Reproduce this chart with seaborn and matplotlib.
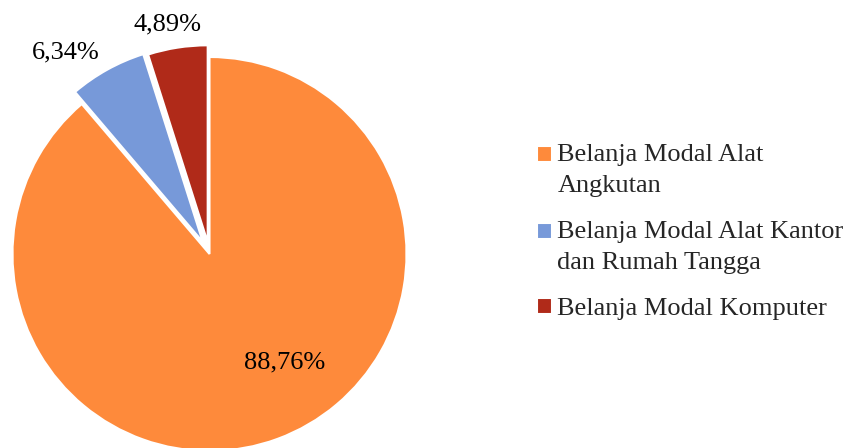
import matplotlib
matplotlib.use("Agg")
import matplotlib.pyplot as plt
from matplotlib.patches import Rectangle
from matplotlib.legend_handler import HandlerPatch
import seaborn as sns

categories = ["Belanja Modal Alat\nAngkutan",
              "Belanja Modal Alat Kantor\ndan Rumah Tangga",
              "Belanja Modal Komputer"]
values = [88.76, 6.34, 4.89]
labels = ["88,76%", "6,34%", "4,89%"]

colors = sns.color_palette(["#FE8A3B", "#7799D9", "#B02A19"])

sns.set_theme(style="white")
plt.rcParams["font.family"] = ["Liberation Serif", "DejaVu Serif"]


class FirstLineHandler(HandlerPatch):
    """Square legend key aligned with the first line of a multi-line label."""

    def __init__(self, shift_pt=0.0, **kw):
        super().__init__(**kw)
        self.shift_pt = shift_pt

    def _create_patch(self, legend, orig_handle, xdescent, ydescent,
                      width, height, fontsize):
        return Rectangle(xy=(-xdescent, -ydescent + self.shift_pt),
                         width=width, height=height)


W, H = 850, 448
fig = plt.figure(figsize=(W / 100, H / 100), dpi=100)
cx, cy, R = 209.5, 254.0, 197.0
ax = fig.add_axes([(cx - R) / W, (H - cy - R) / H, 2 * R / W, 2 * R / H])

wedges, _ = ax.pie(values, colors=colors, startangle=90, counterclock=False,
                   explode=[0, 0.07, 0.06], radius=1,
                   wedgeprops=dict(edgecolor="white", linewidth=1.5))
ax.set_xlim(-1, 1)
ax.set_ylim(-1, 1)
ax.set_aspect("auto")
ax.axis("off")

label_px = [(285, 362), (66, 52), (168, 24)]
for lab, (px, py) in zip(labels, label_px):
    ax.text((px - cx) / R, (cy - py) / R, lab, ha="center", va="center",
            fontsize=19, color="black")

line_shift = 11.5  # points, half a text line
hmap = {w: FirstLineHandler(shift_pt=line_shift * c.count("\n"))
        for w, c in zip(wedges, categories)}

leg = fig.legend(wedges, categories, loc="upper left",
                 bbox_to_anchor=(537 / W, 1 - 144 / H),
                 frameon=False, fontsize=19, handlelength=0.55,
                 handleheight=0.55, handletextpad=0.22, labelspacing=0.9,
                 borderpad=0, borderaxespad=0, handler_map=hmap)
for t in leg.texts:
    t.set_linespacing(1.55)
    t.set_verticalalignment("baseline")
leg.stale = True

fig.savefig("out.png", dpi=100)
